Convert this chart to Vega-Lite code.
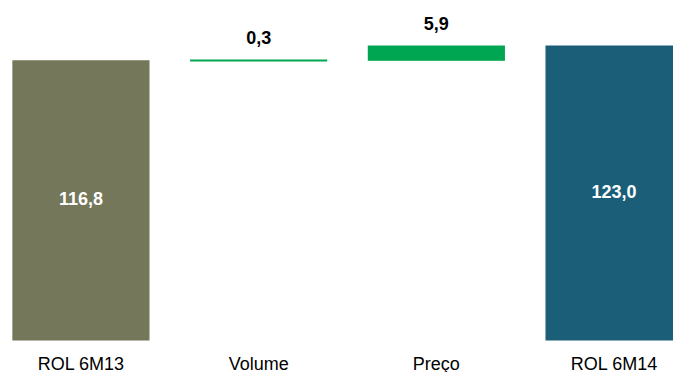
{
  "$schema": "https://vega.github.io/schema/vega-lite/v6.json",
  "width": 673,
  "height": 340,
  "padding": {"left": 0, "top": 0, "right": 0, "bottom": 32},
  "autosize": {"type": "none"},
  "background": "white",
  "config": {"view": {"stroke": null}, "font": "Liberation Sans"},
  "data": {
    "values": [
      {"cat": "ROL 6M13", "start": 0, "end": 116.8, "label": "116,8", "kind": "total1"},
      {"cat": "Volume", "start": 116.8, "end": 117.1, "label": "0,3", "kind": "delta"},
      {"cat": "Preço", "start": 117.1, "end": 123.0, "label": "5,9", "kind": "delta"},
      {"cat": "ROL 6M14", "start": 0, "end": 123.0, "label": "123,0", "kind": "total2"}
    ]
  },
  "encoding": {
    "x": {
      "field": "cat",
      "type": "nominal",
      "sort": null,
      "scale": {"range": [0, 695], "paddingInner": 0.235, "paddingOuter": 0.073},
      "axis": {
        "title": null,
        "labelAngle": 0,
        "ticks": false,
        "domain": false,
        "labelBaseline": "alphabetic",
        "labelPadding": 29,
        "labelFontSize": 18,
        "labelColor": "#000000",
        "labelFont": "Liberation Sans",
        "grid": false
      }
    }
  },
  "layer": [
    {
      "mark": {"type": "bar", "strokeWidth": 1.2},
      "encoding": {
        "y": {"field": "start", "type": "quantitative", "scale": {"domain": [0, 142.3], "nice": false, "zero": true}, "axis": null},
        "y2": {"field": "end"},
        "color": {
          "field": "kind",
          "type": "nominal",
          "scale": {"domain": ["total1", "delta", "total2"], "range": ["#75775a", "#00a651", "#1b5e78"]},
          "legend": null
        },
        "stroke": {
          "field": "kind",
          "type": "nominal",
          "scale": {"domain": ["total1", "delta", "total2"], "range": ["#75775a", "#00a651", "#1b5e78"]},
          "legend": null
        }
      }
    },
    {
      "transform": [{"filter": "datum.kind === 'delta'"}],
      "mark": {"type": "text", "fontWeight": "bold", "fontSize": 18, "color": "#000000", "baseline": "alphabetic", "dy": -16.5},
      "encoding": {
        "y": {"field": "end", "type": "quantitative"},
        "text": {"field": "label"}
      }
    },
    {
      "transform": [
        {"filter": "datum.kind !== 'delta'"},
        {"calculate": "(datum.start + datum.end) / 2", "as": "mid"}
      ],
      "mark": {"type": "text", "fontWeight": "bold", "fontSize": 18, "color": "#ffffff", "baseline": "middle"},
      "encoding": {
        "y": {"field": "mid", "type": "quantitative"},
        "text": {"field": "label"}
      }
    }
  ]
}
